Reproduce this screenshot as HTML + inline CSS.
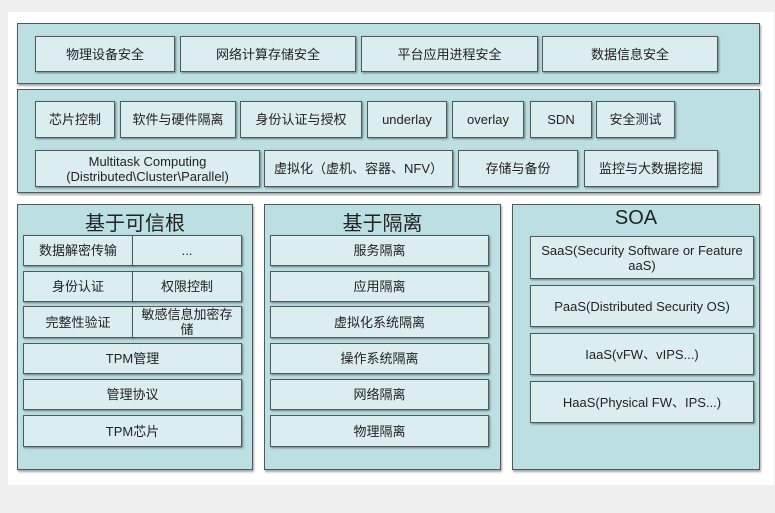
<!DOCTYPE html>
<html><head><meta charset="utf-8"><style>
body{margin:0;width:775px;height:513px;background:#efefef;position:relative;overflow:hidden;font-family:"Liberation Sans","Noto Sans CJK SC",sans-serif;color:#222}
.w{position:absolute;left:8px;top:12px;width:766px;height:473px;background:#fff}
.p{position:absolute;background:#bcdfe3;border:1px solid #4d5b5d;box-shadow:1px 2px 2px rgba(0,0,0,.35);box-sizing:border-box}
.b{position:absolute;background:#dcedf0;border:1px solid #4d5b5d;box-shadow:1px 1px 2px rgba(0,0,0,.45);box-sizing:border-box;display:flex;align-items:center;justify-content:center;text-align:center;font-size:13px;line-height:15px}
.t{position:absolute;font-size:20px;text-align:center}
</style></head><body>
<div class="w"></div>
<div class="p" style="left:17px;top:23px;width:743px;height:61px"></div>
<div class="p" style="left:17px;top:89px;width:743px;height:104px"></div>
<div class="p" style="left:17px;top:204px;width:236px;height:266px"></div>
<div class="p" style="left:264px;top:204px;width:237px;height:266px"></div>
<div class="p" style="left:512px;top:204px;width:248px;height:266px"></div>

<div class="b" style="left:35px;top:36px;width:140px;height:36px">物理设备安全</div>
<div class="b" style="left:180px;top:36px;width:176px;height:36px">网络计算存储安全</div>
<div class="b" style="left:361px;top:36px;width:177px;height:36px">平台应用进程安全</div>
<div class="b" style="left:542px;top:36px;width:176px;height:36px">数据信息安全</div>

<div class="b" style="left:35px;top:101px;width:80px;height:37px">芯片控制</div>
<div class="b" style="left:120px;top:101px;width:116px;height:37px">软件与硬件隔离</div>
<div class="b" style="left:240px;top:101px;width:122px;height:37px">身份认证与授权</div>
<div class="b" style="left:367px;top:101px;width:80px;height:37px">underlay</div>
<div class="b" style="left:452px;top:101px;width:72px;height:37px">overlay</div>
<div class="b" style="left:530px;top:101px;width:62px;height:37px">SDN</div>
<div class="b" style="left:596px;top:101px;width:79px;height:37px">安全测试</div>

<div class="b" style="left:35px;top:150px;width:225px;height:37px">Multitask Computing<br>(Distributed\Cluster\Parallel)</div>
<div class="b" style="left:264px;top:150px;width:189px;height:37px">虚拟化（虚机、容器、NFV）</div>
<div class="b" style="left:458px;top:150px;width:120px;height:37px">存储与备份</div>
<div class="b" style="left:584px;top:150px;width:134px;height:37px">监控与大数据挖掘</div>

<div class="t" style="left:17px;top:207px;width:236px">基于可信根</div>
<div class="b" style="left:23px;top:235px;width:110px;height:31px">数据解密传输</div>
<div class="b" style="left:132px;top:235px;width:110px;height:31px">...</div>
<div class="b" style="left:23px;top:271px;width:110px;height:31px">身份认证</div>
<div class="b" style="left:132px;top:271px;width:110px;height:31px">权限控制</div>
<div class="b" style="left:23px;top:306px;width:110px;height:32px">完整性验证</div>
<div class="b" style="left:132px;top:306px;width:110px;height:32px">敏感信息加密存<br>储</div>
<div class="b" style="left:23px;top:343px;width:219px;height:31px">TPM管理</div>
<div class="b" style="left:23px;top:379px;width:219px;height:31px">管理协议</div>
<div class="b" style="left:23px;top:415px;width:219px;height:32px">TPM芯片</div>

<div class="t" style="left:264px;top:207px;width:237px">基于隔离</div>
<div class="b" style="left:270px;top:235px;width:219px;height:31px">服务隔离</div>
<div class="b" style="left:270px;top:271px;width:219px;height:31px">应用隔离</div>
<div class="b" style="left:270px;top:306px;width:219px;height:32px">虚拟化系统隔离</div>
<div class="b" style="left:270px;top:343px;width:219px;height:31px">操作系统隔离</div>
<div class="b" style="left:270px;top:379px;width:219px;height:31px">网络隔离</div>
<div class="b" style="left:270px;top:415px;width:219px;height:32px">物理隔离</div>

<div class="t" style="left:512px;top:207px;width:248px">SOA</div>
<div class="b" style="left:530px;top:236px;width:224px;height:43px">SaaS(Security Software or Feature<br>aaS)</div>
<div class="b" style="left:530px;top:285px;width:224px;height:42px">PaaS(Distributed Security OS)</div>
<div class="b" style="left:530px;top:333px;width:224px;height:42px">IaaS(vFW、vIPS...)</div>
<div class="b" style="left:530px;top:381px;width:224px;height:42px">HaaS(Physical FW、IPS...)</div>
</body></html>
